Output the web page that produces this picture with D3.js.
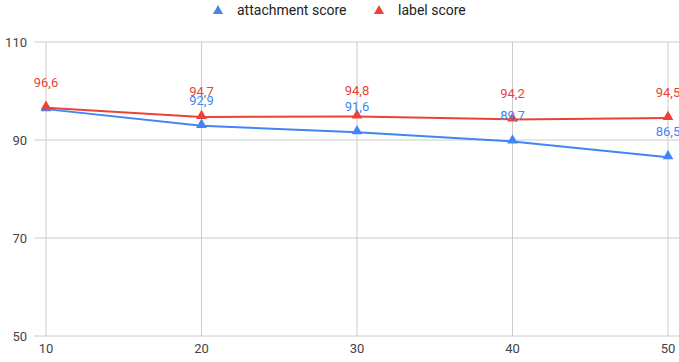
<!DOCTYPE html>
<html>
<head>
<meta charset="utf-8">
<script src="https://cdn.jsdelivr.net/npm/d3@7"></script>
<style>
	body { margin: 0; background: #fff; }
	svg { display: block; font-family: Roboto, 'Liberation Sans', sans-serif; }
</style>
</head>
<body>
<svg id="chart" width="679" height="362"></svg>
<script>
const categories = [10, 20, 30, 40, 50];
const attachmentScore = [96.3, 92.9, 91.6, 89.7, 86.5];
const labelScore = [96.6, 94.7, 94.8, 94.2, 94.5];
const yTicks = [50, 70, 90, 110];

const series = [
	{ name: 'attachment score', values: attachmentScore, color: '#4285f4' },
	{ name: 'label score', values: labelScore, color: '#ea4335' },
];

const svg = d3.select('#chart');
const width = +svg.attr('width');

const x = d3.scaleLinear().domain([10, 50]).range([46, 668]);
const y = d3.scaleLinear().domain([50, 110]).range([336, 42]);

const fmt = (v) => d3.format('.1f')(v).replace('.', ',');

// grid
svg.append('g')
	.selectAll('line')
	.data(yTicks)
	.join('line')
	.attr('x1', 34)
	.attr('x2', width)
	.attr('y1', (d) => y(d))
	.attr('y2', (d) => y(d))
	.style('stroke', '#cccccc')
	.style('stroke-width', 1);

svg.append('g')
	.selectAll('line')
	.data(categories)
	.join('line')
	.attr('x1', (d) => x(d))
	.attr('x2', (d) => x(d))
	.attr('y1', y(110))
	.attr('y2', y(50))
	.style('stroke', '#cccccc')
	.style('stroke-width', 1);

// axis labels
svg.append('g')
	.selectAll('text')
	.data(yTicks)
	.join('text')
	.attr('x', 27)
	.attr('y', (d) => y(d))
	.attr('dy', '0.35em')
	.attr('text-anchor', 'end')
	.style('font-size', '13px')
	.style('fill', '#444')
	.text((d) => d);

svg.append('g')
	.selectAll('text')
	.data(categories)
	.join('text')
	.attr('x', (d) => x(d))
	.attr('y', 353)
	.attr('text-anchor', 'middle')
	.style('font-size', '13px')
	.style('fill', '#444')
	.text((d) => d);

const line = d3.line()
	.x((d, i) => x(categories[i]))
	.y((d) => y(d));

const tri = d3.symbol().type(d3.symbolTriangle).size(50);

series.forEach((s) => {
	const g = svg.append('g');
	g.append('path')
		.datum(s.values)
		.attr('d', line)
		.style('fill', 'none')
		.style('stroke', s.color)
		.style('stroke-width', 2);
	g.selectAll('path.pt')
		.data(s.values)
		.join('path')
		.attr('class', 'pt')
		.attr('d', tri)
		.attr('transform', (d, i) => `translate(${x(categories[i])},${y(d) - 1})`)
		.style('fill', s.color);
});

// data labels (first attachment label hidden under the label score one)
series.forEach((s, si) => {
	svg.append('g')
		.selectAll('text')
		.data(s.values.map((v, i) => ({ v, i })).filter((d) => !(si === 0 && d.i === 0)))
		.join('text')
		.attr('x', (d) => x(categories[d.i]))
		.attr('y', (d) => y(d.v) - 21)
		.attr('text-anchor', 'middle')
		.style('font-size', '13px')
		.style('fill', s.color)
		.text((d) => fmt(d.v));
});

// legend
const legend = svg.append('g');
const legendItems = [
	{ name: series[0].name, color: series[0].color, tx: 218 },
	{ name: series[1].name, color: series[1].color, tx: 379 },
];
legendItems.forEach((d) => {
	legend.append('path')
		.attr('d', d3.symbol().type(d3.symbolTriangle).size(45))
		.attr('transform', `translate(${d.tx},11)`)
		.style('fill', d.color);
	legend.append('text')
		.attr('x', d.tx + 19)
		.attr('y', 15)
		.style('font-size', '14px')
		.style('fill', '#222')
		.text(d.name);
});
</script>
</body>
</html>
